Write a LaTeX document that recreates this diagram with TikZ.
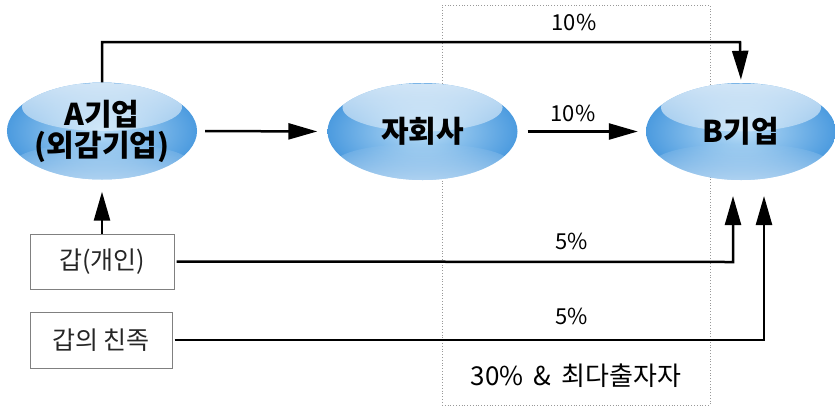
\documentclass[tikz,border=0pt]{standalone}
\usepackage{fontspec}
\setmainfont{Noto Sans CJK KR}
\usetikzlibrary{arrows.meta,shapes.geometric,fadings,calc}
\tikzfading[name=hlTop, top color=transparent!25, bottom color=transparent!100]
\tikzfading[name=hlBot, top color=transparent!100, middle color=transparent!5, bottom color=transparent!40]
\definecolor{edgeblue}{HTML}{4C9BDF}
\definecolor{midblue}{HTML}{B8DCF6}
\tikzset{
  glossy/.style={ellipse, minimum width=190pt, minimum height=97pt, inner sep=0pt,
    shading=radial, inner color=midblue, outer color=edgeblue,
    font=\fontsize{30}{31}\selectfont\bfseries, align=center,
    path picture={
      \fill[white, path fading=hlTop] ($(path picture bounding box.center)+(0,-24)$) ellipse (80 and 24);
      \fill[white, path fading=hlBot] ($(path picture bounding box.center)+(0,32)$) ellipse (88 and 20);
    }},
  pbox/.style={draw=gray, line width=1pt, minimum height=55pt, inner sep=0pt,
    font=\fontsize{25}{28}\selectfont, text=black!85},
  conn/.style={line width=2.5pt, line join=miter},
  arr/.style={conn, -{Triangle[length=29pt,width=16pt]}},
  lbl/.style={font=\fontsize{22}{24}\selectfont, inner sep=0pt},
}
\begin{document}
\begin{tikzpicture}[x=1pt,y=-1pt]
\useasboundingbox (0,0) rectangle (835,408);
\node[draw=gray!80, dotted, line width=0.8pt, minimum width=268pt, minimum height=400pt, inner sep=0pt] (zone) at (576,205) {};
\node[glossy] (A) at (102,131) {A기업\\(외감기업)};
\node[glossy] (S) at (422.5,131.5) {자회사};
\node[glossy] (B) at (741,131.5) {B기업};
\node[pbox, minimum width=144pt] (P) at (102,261.5) {갑(개인)};
\node[pbox, minimum width=142pt, minimum height=56pt] (R) at (101,340) {갑의 친족};
\coordinate (t1) at (102,42);
\coordinate (t2) at (740,42);
\coordinate (p1) at (733,262);
\coordinate (p2) at (733,196);
\coordinate (r1) at (764,340);
\coordinate (r2) at (764,196);
\draw[arr, shorten >=3pt] (A.north) -- (t1) -- (t2) -- (B.north);
\draw[arr, shorten <=8pt, shorten >=10pt] (A.east) -- (S.west);
\draw[arr, shorten <=10pt, shorten >=8pt] (S.east) -- (B.west);
\draw[arr, shorten >=12pt] (P.north) -- (A.south);
\draw[arr, shorten <=2pt] (P.east) -- (p1) -- (p2);
\draw[arr, shorten <=2pt] (R.east) -- (r1) -- (r2);
\node[lbl] (l1) at (574,22) {10\%};
\node[lbl] (l2) at (573,113) {10\%};
\node[lbl] (l3) at (572,241) {5\%};
\node[lbl] (l4) at (572,316) {5\%};
\node[font=\fontsize{26}{28}\selectfont, inner sep=0pt] (bt) at (576,376) {30\% \,\&\, 최다출자자};
\end{tikzpicture}
\end{document}
